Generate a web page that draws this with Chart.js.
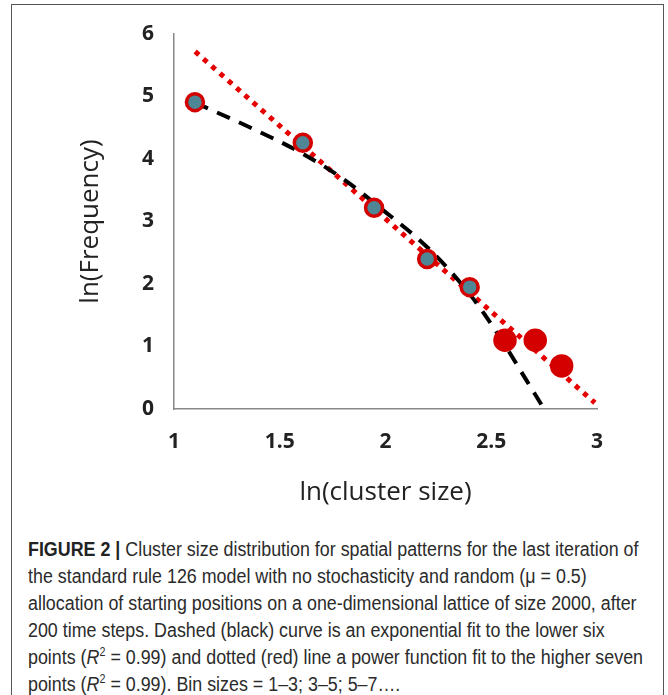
<!DOCTYPE html>
<html lang="en">
<head>
  <meta charset="UTF-8">
  <script src="https://cdn.jsdelivr.net/npm/chart.js@4.4.0/dist/chart.umd.min.js"></script>
  <title>Figure 2</title>
  <style>
    body { margin: 0; background: #fff; }
    .figure {
      position: absolute; left: 11px; top: 4px; width: 653px; height: 700px;
      border: 1.5px solid #555; box-sizing: border-box;
    }
    .chartBox { position: absolute; left: 0; top: 0; width: 668px; height: 520px; }
    .caption {
      position: absolute; left: 28px; top: 536px;
      font-family: "Liberation Sans Narrow", "Liberation Sans", sans-serif;
      font-size: 20px; line-height: 27px; color: #2b2b2b;
      white-space: nowrap; transform-origin: 0 0;
    }
    .caption b { color: #222; }
    .caption sup { font-size: 12px; line-height: 0; vertical-align: 0; position: relative; top: -8px; }
  </style>
</head>
<body>
  <div class="figure"></div>
  <div class="chartBox"><canvas id="myChart"></canvas></div>
  <div class="caption" id="caption">
    <b>FIGURE 2 |</b> Cluster size distribution for spatial patterns for the last iteration of<br>
    the standard rule 126 model with no stochasticity and random (μ = 0.5)<br>
    allocation of starting positions on a one-dimensional lattice of size 2000, after<br>
    200 time steps. Dashed (black) curve is an exponential fit to the lower six<br>
    points (<i>R</i><sup>2</sup> = 0.99) and dotted (red) line a power function fit to the higher seven<br>
    points (<i>R</i><sup>2</sup> = 0.99). Bin sizes = 1–3; 3–5; 5–7….
  </div>

<script>
  // data
  var clusterX = [1.099, 1.609, 1.946, 2.197, 2.398, 2.565, 2.708, 2.833];
  var lnFreq = [4.91, 4.26, 3.22, 2.40, 1.95, 1.10, 1.10, 0.69];
  var expFitX = [1.10, 1.35, 1.60, 1.80, 2.00, 2.20, 2.40, 2.55, 2.65, 2.75];
  var expFitY = [4.90, 4.52, 4.10, 3.68, 3.15, 2.58, 1.83, 1.10, 0.55, 0.00];
  var powFitX = [1.10, 2.99];
  var powFitY = [5.72, 0.10];
  var xTicks = [1, 1.5, 2, 2.5, 3];
  var yTicks = [0, 1, 2, 3, 4, 5, 6];

  function toPoints(xs, ys) {
    var rez = [];
    for (var i = 0; i < xs.length; i++) rez.push({ x: xs[i], y: ys[i] });
    return rez;
  }

  var red = 'rgb(212,0,0)';
  var teal = 'rgb(78,134,150)';
  var fill = [], radius = [];
  for (var i = 0; i < clusterX.length; i++) {
    fill.push(i < 5 ? teal : red);
    radius.push(i < 5 ? 8.5 : 10);
  }

  var tickFont = { family: 'Open Sans', size: 21, weight: 'bold' };
  var titleFont = { family: 'Open Sans', size: 26 };

  var ctx = document.getElementById('myChart').getContext('2d');
  var myChart = new Chart(ctx, {
    type: 'scatter',
    data: {
      datasets: [{
        label: 'data',
        data: toPoints(clusterX, lnFreq),
        pointRadius: radius,
        pointBackgroundColor: fill,
        pointBorderColor: red,
        pointBorderWidth: 3.5,
        showLine: false,
        order: 0
      }, {
        label: 'exponential fit',
        data: toPoints(expFitX, expFitY),
        showLine: true,
        pointRadius: 0,
        borderColor: '#000',
        borderWidth: 4,
        borderDash: [14, 10],
        cubicInterpolationMode: 'monotone',
        order: 1
      }, {
        label: 'power fit',
        data: toPoints(powFitX, powFitY),
        showLine: true,
        pointRadius: 0,
        borderColor: 'rgb(230,0,0)',
        borderWidth: 5,
        borderDash: [5, 6],
        order: 2
      }]
    },
    options: {
      responsive: true,
      maintainAspectRatio: false,
      animation: false,
      layout: { padding: { left: 0, top: 34, right: 71, bottom: 0 } },
      plugins: { legend: { display: false }, tooltip: { enabled: false } },
      scales: {
        x: {
          type: 'linear', min: 1, max: 3,
          afterBuildTicks: function (s) { s.ticks = xTicks.map(function (v) { return { value: v }; }); },
          afterFit: function (s) { s.height = 111; },
          grid: { display: false, drawTicks: false },
          border: { color: '#888', width: 1.5 },
          ticks: { font: tickFont, color: '#222', padding: 20, callback: function (v) { return String(v); } },
          title: { display: true, text: 'ln(cluster size)', font: titleFont, color: '#222', padding: { top: 0, bottom: 12 } }
        },
        y: {
          type: 'linear', min: 0, max: 6,
          afterBuildTicks: function (s) { s.ticks = yTicks.map(function (v) { return { value: v }; }); },
          afterFit: function (s) { s.width = 174; },
          grid: { display: false, drawTicks: false },
          border: { color: '#888', width: 1.5 },
          ticks: { font: tickFont, color: '#222', padding: 20, callback: function (v) { return String(v); } },
          title: { display: true, text: 'ln(Frequency)', font: titleFont, color: '#222', padding: { top: 75, bottom: 0 } }
        }
      }
    }
  });

  // squeeze the caption so that its widest line spans the same width as in the figure
  var cap = document.getElementById('caption');
  var w = cap.getBoundingClientRect().width;
  cap.style.transform = 'scaleX(' + (615 / w) + ')';
</script>
</body>
</html>
